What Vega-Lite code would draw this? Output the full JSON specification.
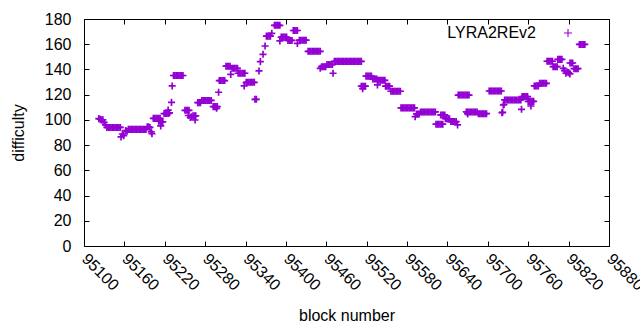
{
"$schema":"https://vega.github.io/schema/vega-lite/v6.json",
"width":525,"height":227,
"autosize":"none",
"padding":{"left":84,"top":19,"right":31,"bottom":84},
"config":{"view":{"stroke":"black","strokeWidth":1},"font":"Liberation Sans","axis":{"grid":false,"domainColor":"black","tickColor":"black","labelColor":"black","titleColor":"black","labelFont":"Liberation Sans","titleFont":"Liberation Sans","labelFontSize":16,"titleFontSize":16,"titleFontWeight":"normal"}},
"data":{"values":[
{"block":95122,"difficulty":101},{"block":95124,"difficulty":100.5},{"block":95126,"difficulty":100},{"block":95128,"difficulty":100},{"block":95130,"difficulty":98},{"block":95132,"difficulty":96},
{"block":95134,"difficulty":94},{"block":95136,"difficulty":94},{"block":95138,"difficulty":94},{"block":95140,"difficulty":94},{"block":95142,"difficulty":94},{"block":95144,"difficulty":94},{"block":95146,"difficulty":94},{"block":95148,"difficulty":94},{"block":95150,"difficulty":94},{"block":95152,"difficulty":94},{"block":95154,"difficulty":94},
{"block":95155,"difficulty":86.5},{"block":95157,"difficulty":88.8},{"block":95159,"difficulty":87.5},{"block":95162,"difficulty":91.5},{"block":95164,"difficulty":91},
{"block":95166,"difficulty":92.5},{"block":95168,"difficulty":92.5},{"block":95170,"difficulty":92.5},{"block":95172,"difficulty":92.5},{"block":95174,"difficulty":92.5},{"block":95176,"difficulty":92.5},{"block":95178,"difficulty":92.5},{"block":95180,"difficulty":92.5},{"block":95182,"difficulty":92.5},{"block":95184,"difficulty":92.5},{"block":95186,"difficulty":92.5},{"block":95188,"difficulty":92.5},{"block":95190,"difficulty":92.5},{"block":95192,"difficulty":92.5},
{"block":95194,"difficulty":94.5},{"block":95196,"difficulty":94.5},{"block":95198,"difficulty":94},{"block":95200,"difficulty":90.5},{"block":95201,"difficulty":89},
{"block":95203,"difficulty":101.2},{"block":95205,"difficulty":101.2},{"block":95207,"difficulty":101.2},{"block":95209,"difficulty":101.2},{"block":95211,"difficulty":101.2},{"block":95213,"difficulty":101.2},
{"block":95211,"difficulty":99},{"block":95213,"difficulty":99},{"block":95215,"difficulty":98.5},{"block":95217,"difficulty":98.5},{"block":95214,"difficulty":95.2},
{"block":95219,"difficulty":105},{"block":95221,"difficulty":105},{"block":95223,"difficulty":105},{"block":95225,"difficulty":105},{"block":95227,"difficulty":105.5},
{"block":95225,"difficulty":107.8},{"block":95230,"difficulty":113.9},{"block":95231,"difficulty":126.9},
{"block":95233,"difficulty":135.2},{"block":95235,"difficulty":135.2},{"block":95237,"difficulty":135.2},{"block":95239,"difficulty":135.2},{"block":95241,"difficulty":135.2},{"block":95243,"difficulty":135.2},{"block":95245,"difficulty":135.2},{"block":95247,"difficulty":135.2},
{"block":95250,"difficulty":107.6},{"block":95252,"difficulty":107.6},{"block":95254,"difficulty":107.6},{"block":95256,"difficulty":107.6},
{"block":95255,"difficulty":103.5},{"block":95258,"difficulty":102},{"block":95260,"difficulty":102.5},{"block":95262,"difficulty":103.2},{"block":95264,"difficulty":103.2},{"block":95266,"difficulty":103.2},{"block":95265,"difficulty":99.9},
{"block":95269,"difficulty":113.7},{"block":95271,"difficulty":113.7},{"block":95273,"difficulty":113.7},
{"block":95275,"difficulty":115.4},{"block":95277,"difficulty":115.4},{"block":95279,"difficulty":115.4},{"block":95281,"difficulty":115.4},{"block":95283,"difficulty":115.4},{"block":95285,"difficulty":115.4},{"block":95287,"difficulty":115.4},{"block":95289,"difficulty":115.4},
{"block":95292,"difficulty":110.5},{"block":95294,"difficulty":110.5},{"block":95296,"difficulty":110.5},{"block":95298,"difficulty":110.5},{"block":95297,"difficulty":109.2},
{"block":95300,"difficulty":121.9},
{"block":95301,"difficulty":131.2},{"block":95303,"difficulty":131.2},{"block":95305,"difficulty":131.2},{"block":95307,"difficulty":131.2},{"block":95309,"difficulty":131.2},
{"block":95311,"difficulty":142.6},{"block":95313,"difficulty":142.6},{"block":95315,"difficulty":142.6},{"block":95317,"difficulty":142.6},
{"block":95318,"difficulty":136.1},
{"block":95320,"difficulty":140.9},{"block":95322,"difficulty":140.9},{"block":95324,"difficulty":140.9},{"block":95326,"difficulty":140.9},{"block":95328,"difficulty":140.9},
{"block":95329,"difficulty":137},{"block":95331,"difficulty":137},{"block":95333,"difficulty":137},{"block":95335,"difficulty":137},{"block":95337,"difficulty":137},{"block":95339,"difficulty":137},
{"block":95338,"difficulty":126.9},
{"block":95341,"difficulty":129.8},{"block":95343,"difficulty":129.8},{"block":95345,"difficulty":129.8},{"block":95347,"difficulty":129.8},{"block":95349,"difficulty":129.8},{"block":95351,"difficulty":129.8},{"block":95353,"difficulty":129.8},
{"block":95354,"difficulty":116.3},{"block":95356,"difficulty":116.3},
{"block":95360,"difficulty":138.8},{"block":95362,"difficulty":146.2},{"block":95366,"difficulty":152},{"block":95369,"difficulty":158.6},
{"block":95371,"difficulty":166.4},{"block":95373,"difficulty":166.4},{"block":95375,"difficulty":166.4},{"block":95377,"difficulty":166.4},
{"block":95379,"difficulty":168.6},
{"block":95383,"difficulty":175},{"block":95385,"difficulty":175},{"block":95387,"difficulty":175},{"block":95389,"difficulty":175},{"block":95391,"difficulty":175},
{"block":95391,"difficulty":162.6},
{"block":95393,"difficulty":165.6},{"block":95395,"difficulty":165.6},{"block":95397,"difficulty":165.6},{"block":95399,"difficulty":165.6},{"block":95401,"difficulty":165.6},
{"block":95403,"difficulty":163},{"block":95405,"difficulty":163},{"block":95407,"difficulty":163},{"block":95409,"difficulty":163},
{"block":95411,"difficulty":170.9},{"block":95413,"difficulty":170.9},{"block":95415,"difficulty":170.9},{"block":95417,"difficulty":170.9},
{"block":95417,"difficulty":160.7},
{"block":95420,"difficulty":163.2},{"block":95422,"difficulty":163.2},{"block":95424,"difficulty":163.2},{"block":95426,"difficulty":163.2},{"block":95428,"difficulty":163.2},{"block":95430,"difficulty":163.2},
{"block":95433,"difficulty":154.4},{"block":95435,"difficulty":154.4},{"block":95437,"difficulty":154.4},{"block":95439,"difficulty":154.4},{"block":95441,"difficulty":154.4},{"block":95443,"difficulty":154.4},{"block":95445,"difficulty":154.4},{"block":95447,"difficulty":154.4},{"block":95449,"difficulty":154.4},{"block":95451,"difficulty":154.4},
{"block":95451,"difficulty":140.9},
{"block":95453,"difficulty":142.2},{"block":95455,"difficulty":142.2},{"block":95457,"difficulty":142.2},{"block":95459,"difficulty":142.2},
{"block":95461,"difficulty":143.9},{"block":95463,"difficulty":143.9},{"block":95465,"difficulty":143.9},{"block":95467,"difficulty":143.9},{"block":95469,"difficulty":143.9},
{"block":95470,"difficulty":137},
{"block":95472,"difficulty":146.4},{"block":95474,"difficulty":146.4},{"block":95476,"difficulty":146.4},{"block":95478,"difficulty":146.4},{"block":95480,"difficulty":146.4},{"block":95482,"difficulty":146.4},{"block":95484,"difficulty":146.4},{"block":95486,"difficulty":146.4},{"block":95488,"difficulty":146.4},{"block":95490,"difficulty":146.4},{"block":95492,"difficulty":146.4},{"block":95494,"difficulty":146.4},{"block":95496,"difficulty":146.4},{"block":95498,"difficulty":146.4},{"block":95500,"difficulty":146.4},{"block":95502,"difficulty":146.4},{"block":95504,"difficulty":146.4},{"block":95506,"difficulty":146.4},{"block":95508,"difficulty":146.4},{"block":95510,"difficulty":146.4},{"block":95512,"difficulty":146.4},
{"block":95512,"difficulty":126.7},{"block":95514,"difficulty":126.7},{"block":95516,"difficulty":126.7},{"block":95518,"difficulty":126.7},{"block":95514,"difficulty":124.8},
{"block":95519,"difficulty":134.7},{"block":95521,"difficulty":134.7},{"block":95523,"difficulty":134.7},{"block":95525,"difficulty":134.7},{"block":95527,"difficulty":134.7},
{"block":95529,"difficulty":132.4},{"block":95531,"difficulty":132.4},{"block":95533,"difficulty":132.4},{"block":95535,"difficulty":132.4},
{"block":95536,"difficulty":127.7},
{"block":95537,"difficulty":131.4},{"block":95539,"difficulty":131.4},{"block":95541,"difficulty":131.4},{"block":95543,"difficulty":131.4},{"block":95545,"difficulty":131.4},{"block":95547,"difficulty":131.4},
{"block":95548,"difficulty":126.7},{"block":95550,"difficulty":126.7},{"block":95552,"difficulty":126.7},{"block":95554,"difficulty":126.7},
{"block":95556,"difficulty":122.7},{"block":95558,"difficulty":122.7},{"block":95560,"difficulty":122.7},{"block":95562,"difficulty":122.7},{"block":95564,"difficulty":122.7},{"block":95566,"difficulty":122.7},{"block":95568,"difficulty":122.7},{"block":95570,"difficulty":122.7},
{"block":95571,"difficulty":109.5},{"block":95573,"difficulty":109.5},{"block":95575,"difficulty":109.5},{"block":95577,"difficulty":109.5},{"block":95579,"difficulty":109.5},{"block":95581,"difficulty":109.5},{"block":95583,"difficulty":109.5},{"block":95585,"difficulty":109.5},{"block":95587,"difficulty":109.5},{"block":95589,"difficulty":109.5},{"block":95591,"difficulty":109.5},
{"block":95592,"difficulty":102.6},
{"block":95594,"difficulty":104.7},{"block":95596,"difficulty":104.7},{"block":95598,"difficulty":104.7},
{"block":95600,"difficulty":106.3},{"block":95602,"difficulty":106.3},{"block":95604,"difficulty":106.3},{"block":95606,"difficulty":106.3},{"block":95608,"difficulty":106.3},{"block":95610,"difficulty":106.3},{"block":95612,"difficulty":106.3},{"block":95614,"difficulty":106.3},{"block":95616,"difficulty":106.3},{"block":95618,"difficulty":106.3},{"block":95620,"difficulty":106.3},{"block":95622,"difficulty":106.3},
{"block":95623,"difficulty":96.6},{"block":95625,"difficulty":96.6},{"block":95627,"difficulty":96.6},{"block":95629,"difficulty":96.6},{"block":95631,"difficulty":96.6},{"block":95633,"difficulty":96.6},
{"block":95630,"difficulty":103.9},{"block":95632,"difficulty":103.9},{"block":95634,"difficulty":103.9},{"block":95636,"difficulty":103.9},
{"block":95637,"difficulty":100.9},{"block":95639,"difficulty":100.9},{"block":95641,"difficulty":100.9},{"block":95643,"difficulty":100.9},
{"block":95645,"difficulty":98.7},{"block":95647,"difficulty":98.7},{"block":95649,"difficulty":98.7},{"block":95651,"difficulty":98.7},{"block":95653,"difficulty":98.7},
{"block":95655,"difficulty":96},
{"block":95656,"difficulty":119.7},{"block":95658,"difficulty":119.7},{"block":95660,"difficulty":119.7},{"block":95662,"difficulty":119.7},{"block":95664,"difficulty":119.7},{"block":95666,"difficulty":119.7},{"block":95668,"difficulty":119.7},{"block":95670,"difficulty":119.7},{"block":95672,"difficulty":119.7},
{"block":95668,"difficulty":106.3},{"block":95670,"difficulty":106.3},{"block":95672,"difficulty":106.3},{"block":95674,"difficulty":106.3},{"block":95676,"difficulty":106.3},{"block":95678,"difficulty":106.3},{"block":95680,"difficulty":106.3},{"block":95682,"difficulty":106.3},{"block":95684,"difficulty":106.3},{"block":95670,"difficulty":104.7},
{"block":95686,"difficulty":104.9},{"block":95688,"difficulty":104.9},{"block":95690,"difficulty":104.9},{"block":95692,"difficulty":104.9},{"block":95694,"difficulty":104.9},{"block":95696,"difficulty":104.9},{"block":95698,"difficulty":104.9},
{"block":95702,"difficulty":122.9},{"block":95704,"difficulty":122.9},{"block":95706,"difficulty":122.9},{"block":95708,"difficulty":122.9},{"block":95710,"difficulty":122.9},{"block":95712,"difficulty":122.9},{"block":95714,"difficulty":122.9},{"block":95716,"difficulty":122.9},{"block":95718,"difficulty":122.9},{"block":95720,"difficulty":122.9},
{"block":95721,"difficulty":105.7},{"block":95722,"difficulty":106},{"block":95723,"difficulty":111.8},{"block":95724,"difficulty":112.2},
{"block":95725,"difficulty":115.8},{"block":95727,"difficulty":115.8},{"block":95729,"difficulty":115.8},{"block":95731,"difficulty":115.8},{"block":95733,"difficulty":115.8},{"block":95735,"difficulty":115.8},{"block":95737,"difficulty":115.8},{"block":95739,"difficulty":115.8},{"block":95741,"difficulty":115.8},{"block":95743,"difficulty":115.8},{"block":95745,"difficulty":115.8},{"block":95747,"difficulty":115.8},{"block":95749,"difficulty":115.8},
{"block":95750,"difficulty":108.4},
{"block":95751,"difficulty":118.5},{"block":95753,"difficulty":118.5},{"block":95755,"difficulty":118.5},{"block":95757,"difficulty":118.5},{"block":95759,"difficulty":118.5},
{"block":95760,"difficulty":114.7},{"block":95762,"difficulty":114.7},{"block":95764,"difficulty":114.7},{"block":95766,"difficulty":114.7},{"block":95768,"difficulty":114.7},{"block":95764,"difficulty":111},
{"block":95769,"difficulty":126.9},{"block":95771,"difficulty":126.9},{"block":95773,"difficulty":126.9},{"block":95775,"difficulty":126.9},
{"block":95777,"difficulty":129},{"block":95779,"difficulty":129},{"block":95781,"difficulty":129},{"block":95783,"difficulty":129},{"block":95785,"difficulty":129},{"block":95787,"difficulty":129},
{"block":95788,"difficulty":146.5},{"block":95790,"difficulty":146.5},{"block":95792,"difficulty":146.5},{"block":95794,"difficulty":146.5},{"block":95796,"difficulty":146.5},
{"block":95797,"difficulty":142.2},{"block":95799,"difficulty":142.2},{"block":95801,"difficulty":142.2},{"block":95803,"difficulty":142.2},
{"block":95804,"difficulty":148},{"block":95806,"difficulty":148},{"block":95808,"difficulty":148},{"block":95810,"difficulty":148},
{"block":95812,"difficulty":140.9},{"block":95814,"difficulty":139},{"block":95816,"difficulty":137},{"block":95818,"difficulty":138},{"block":95820,"difficulty":137.5},{"block":95822,"difficulty":136.5},
{"block":95822,"difficulty":145.1},{"block":95824,"difficulty":145.1},{"block":95826,"difficulty":145.1},
{"block":95828,"difficulty":140.6},{"block":95830,"difficulty":140.6},{"block":95832,"difficulty":140.6},{"block":95834,"difficulty":140.6},
{"block":95836,"difficulty":159.8},{"block":95838,"difficulty":159.8},{"block":95840,"difficulty":159.8},{"block":95842,"difficulty":159.8},{"block":95844,"difficulty":159.8}
]},
"layer":[
{"mark":{"type":"point","shape":"M-1,0H1M0,-1V1","filled":false,"strokeWidth":1.7,"size":50,"opacity":1},
 "encoding":{
  "x":{"field":"block","type":"quantitative","scale":{"domain":[95100,95880],"nice":false,"zero":false},
       "axis":{"orient":"bottom","values":[95100,95160,95220,95280,95340,95400,95460,95520,95580,95640,95700,95760,95820,95880],"format":"d","tickSize":-5,"labelPadding":15,"labelAngle":45,"labelAlign":"left","labelBaseline":"middle","labelBound":false,"labelOverlap":false,"title":"block number","titlePadding":14,"domain":false}},
  "y":{"field":"difficulty","type":"quantitative","scale":{"domain":[0,180],"nice":false},
       "axis":{"orient":"left","values":[0,20,40,60,80,100,120,140,160,180],"tickSize":-5,"labelPadding":18,"title":"difficulty","titlePadding":18,"domain":false}},
  "color":{"datum":"LYRA2REv2","type":"nominal","scale":{"range":["#9400d3"]},
       "legend":{"title":null,"orient":"none","legendX":476,"legendY":6,"symbolType":"M-1,0H1M0,-1V1","symbolSize":64,"symbolStrokeWidth":1.1,"symbolFillColor":"transparent","labelAlign":"right","labelOffset":-40,"labelFontSize":16,"labelFont":"Liberation Sans","labelColor":"black"}}
 }},
{"mark":{"type":"point","opacity":0},
 "encoding":{
  "x":{"field":"block","type":"quantitative","axis":{"orient":"top","values":[95100,95160,95220,95280,95340,95400,95460,95520,95580,95640,95700,95760,95820,95880],"labels":false,"tickSize":-5,"title":null,"domain":false}},
  "y":{"field":"difficulty","type":"quantitative","axis":{"orient":"right","values":[0,20,40,60,80,100,120,140,160,180],"labels":false,"tickSize":-5,"title":null,"domain":false}}
 }}
],
"resolve":{"axis":{"x":"independent","y":"independent"}}
}
